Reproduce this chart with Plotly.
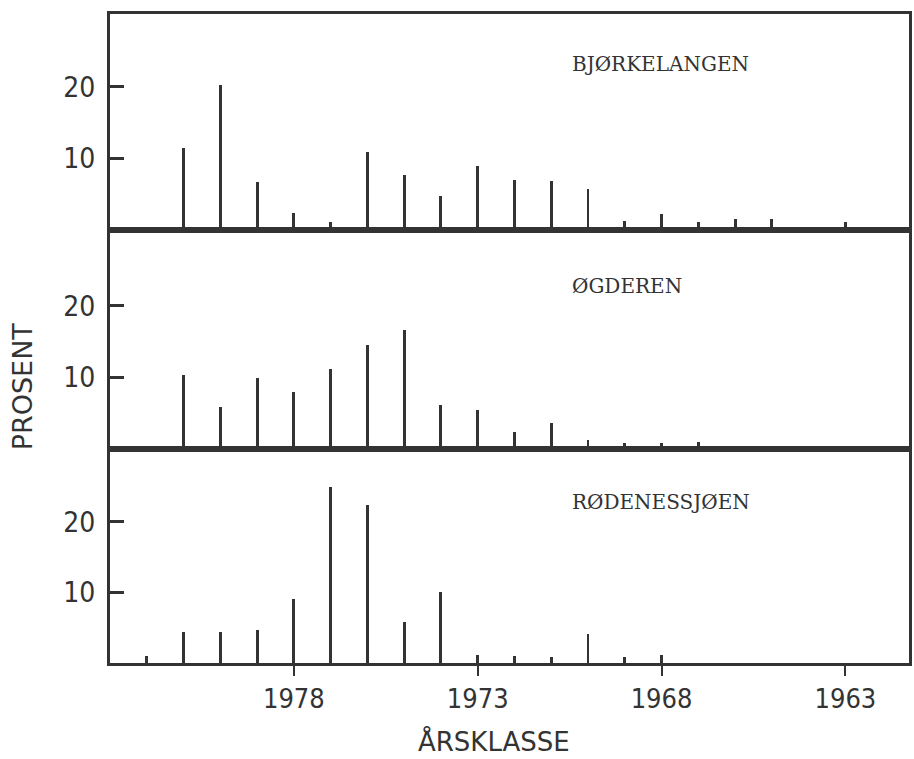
import plotly.graph_objects as go
from plotly.subplots import make_subplots

# ---- data ----
years_bjork = [1981, 1980, 1979, 1978, 1977, 1976, 1975, 1974, 1973, 1972, 1971, 1970, 1969, 1968, 1967, 1966, 1965, 1963]
bjorkelangen = [11.5, 20.3, 6.7, 2.4, 1.1, 10.9, 7.7, 4.8, 9.0, 7.0, 6.9, 5.7, 1.3, 2.2, 1.1, 1.5, 1.5, 1.1]

years_ogd = [1981, 1980, 1979, 1978, 1977, 1976, 1975, 1974, 1973, 1972, 1971, 1970, 1969, 1968, 1967]
ogderen = [10.3, 5.9, 9.9, 8.0, 11.2, 14.5, 16.6, 6.2, 5.5, 2.4, 3.6, 1.3, 0.8, 0.8, 1.0]

years_rod = [1982, 1981, 1980, 1979, 1978, 1977, 1976, 1975, 1974, 1973, 1972, 1971, 1970, 1969, 1968]
rodenessjoen = [1.0, 4.4, 4.4, 4.7, 9.1, 25.0, 22.4, 5.8, 10.1, 1.1, 1.0, 0.9, 4.1, 0.9, 1.1]

panel_names = ["BJØRKELANGEN", "ØGDEREN", "RØDENESSJØEN"]
x_ticks = [1978, 1973, 1968, 1963]
y_ticks = [10, 20]

INK = "#333333"
NARROW = "Liberation Sans Narrow, DejaVu Sans Condensed, Arial Narrow, sans-serif"

fig = make_subplots(rows=3, cols=1, shared_xaxes=True, vertical_spacing=0)

series = [(years_bjork, bjorkelangen), (years_ogd, ogderen), (years_rod, rodenessjoen)]
for i, (xs, ys) in enumerate(series, start=1):
    fig.add_trace(go.Bar(x=xs, y=ys, width=0.08, marker=dict(color=INK, line=dict(width=0)),
                         showlegend=False), row=i, col=1)

domains = [[0.6672, 1.0], [0.3297, 0.6672], [0.0, 0.3297]]
yranges = [[0, 30.2], [0, 30.6], [0, 30.35]]
label_y = [64, 286, 502]

for i in range(3):
    ya = "yaxis" if i == 0 else f"yaxis{i+1}"
    xa = "xaxis" if i == 0 else f"xaxis{i+1}"
    fig.layout[ya].update(domain=domains[i], range=yranges[i], tickvals=y_ticks,
                          ticks="inside", ticklen=14, tickwidth=3, tickcolor=INK,
                          showline=True, linewidth=3, linecolor=INK, mirror=True,
                          showgrid=False, zeroline=False, ticklabelstandoff=6,
                          tickfont=dict(family=NARROW, size=28, color=INK))
    fig.layout[xa].update(range=[1983.0, 1961.27], showline=True, linewidth=3, linecolor=INK,
                          mirror=True, showgrid=False, zeroline=False,
                          tickvals=x_ticks, ticks="outside" if i == 2 else "",
                          ticklen=10, tickwidth=2, tickcolor=INK,
                          showticklabels=(i == 2),
                          tickfont=dict(family=NARROW, size=27, color=INK))
    fig.add_annotation(text=panel_names[i], xref="paper", yref="paper",
                       x=(572 - 110) / 802, y=(663 - label_y[i]) / 649,
                       xanchor="left", yanchor="middle", showarrow=False,
                       font=dict(family="DejaVu Serif, Liberation Serif, serif", size=20, color=INK))

fig.add_annotation(text="PROSENT", xref="paper", yref="paper", x=(23 - 110) / 802,
                   y=(663 - 386) / 649, textangle=-90, showarrow=False,
                   xanchor="center", yanchor="middle",
                   font=dict(family="DejaVu Sans, sans-serif", size=27, color=INK))
fig.add_annotation(text="ÅRSKLASSE", xref="paper", yref="paper", x=(495 - 110) / 802,
                   y=(663 - 741) / 649, showarrow=False, xanchor="center", yanchor="middle",
                   font=dict(family="DejaVu Sans, sans-serif", size=26, color=INK))

fig.update_layout(width=914, height=759, margin=dict(l=110, r=2, t=14, b=96),
                  paper_bgcolor="white", plot_bgcolor="white", bargap=0)

fig.write_html("out.html")
